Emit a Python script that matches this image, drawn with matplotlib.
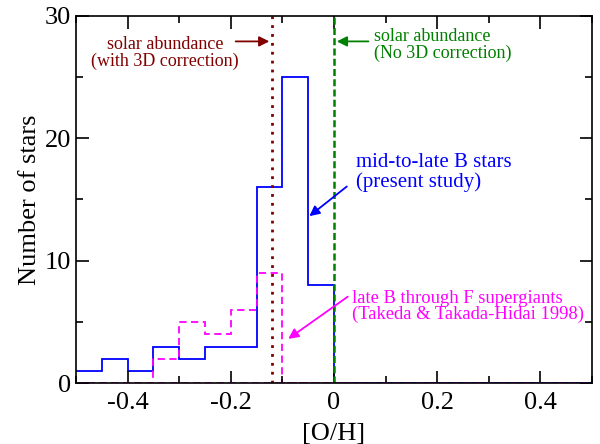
import numpy as np
import matplotlib
matplotlib.use('Agg')
import matplotlib.pyplot as plt
from matplotlib.ticker import MultipleLocator

plt.rcParams['font.family'] = ['Liberation Serif', 'DejaVu Serif']

# bin edges of [O/H], width 0.05
edges = [-0.5, -0.45, -0.4, -0.35, -0.3, -0.25, -0.2, -0.15, -0.1, -0.05, 0.0, 0.05]
# mid-to-late B stars (present study)
counts_b = [1, 2, 1, 3, 2, 3, 3, 16, 25, 8, 0]
# late B through F supergiants (Takeda & Takada-Hidai 1998)
counts_sg = [0, 0, 0, 2, 5, 4, 6, 9, 0, 0, 0]

solar_3d = -0.12
solar_no3d = 0.0

fig = plt.figure(figsize=(6, 4.44), dpi=100)
ax = fig.add_axes([0.1267, 0.1367, 0.86, 0.828])

ax.stairs(counts_b, edges, color='#0000ff', lw=1.3, baseline=None)
ax.stairs(counts_sg, edges, color='#ff00ff', lw=1.3, ls=(0, (4, 2.5)), baseline=None)
ax.plot([0.05, 0.5], [0, 0], color='#0000ff', lw=1.3)
ax.plot([-0.5, 0.5], [0, 0], color='#ff00ff', lw=1.3, ls=(0, (4, 2.5)))

ax.axvline(solar_3d, color='#800000', lw=2, ls=(0, (1, 2.2)))
ax.axvline(solar_no3d, color='#008000', lw=1.8, ls=(0, (2.8, 1.3)))

ax.set_xlim(-0.5, 0.5)
ax.set_ylim(0, 30)
ax.xaxis.set_major_locator(MultipleLocator(0.2))
ax.xaxis.set_minor_locator(MultipleLocator(0.1))
ax.yaxis.set_major_locator(MultipleLocator(10))
ax.yaxis.set_minor_locator(MultipleLocator(5))
ax.tick_params(which='both', direction='in', top=True, right=True, labelsize=19, width=1.2)
ax.tick_params(which='major', length=9)
ax.tick_params(which='minor', length=5)
ax.tick_params(axis='x', which='major', pad=6)
ax.set_xticks([-0.4, -0.2, 0, 0.2, 0.4])
ax.set_xticklabels(['-0.4', '-0.2', '0', '0.2', '0.4'])
for s in ax.spines.values():
    s.set_linewidth(1.2)

ax.set_xlabel('[O/H]', fontsize=19, labelpad=7)
ax.set_ylabel('Number of stars', fontsize=19, labelpad=3)

ax.annotate('', xy=(solar_3d, 27.9), xytext=(-0.196, 27.9),
            arrowprops=dict(arrowstyle='-|>', color='#800000', lw=1.3, mutation_scale=15))
ax.text(-0.327, 26.96, 'solar abundance\n(with 3D correction)', color='#800000',
        fontsize=13, ha='center', va='center', linespacing=1.0)

ax.annotate('', xy=(solar_no3d, 27.9), xytext=(0.072, 27.9),
            arrowprops=dict(arrowstyle='-|>', color='#008000', lw=1.3, mutation_scale=15))
ax.text(0.078, 27.6, 'solar abundance\n(No 3D correction)', color='#008000',
        fontsize=13, ha='left', va='center', linespacing=1.0)

ax.annotate('', xy=(-0.052, 13.5), xytext=(0.029, 16.2),
            arrowprops=dict(arrowstyle='-|>', color='#0000ff', lw=1.3, mutation_scale=15))
ax.text(0.043, 17.2, 'mid-to-late B stars\n(present study)', color='#0000ff',
        fontsize=15, ha='left', va='center', linespacing=1.0)

ax.annotate('', xy=(-0.093, 3.5), xytext=(0.031, 7.2),
            arrowprops=dict(arrowstyle='-|>', color='#ff00ff', lw=1.3, mutation_scale=15))
ax.text(0.035, 6.27, 'late B through F supergiants\n(Takeda & Takada-Hidai 1998)', color='#ff00ff',
        fontsize=13.4, ha='left', va='center', linespacing=0.9)

fig.savefig('out.png', dpi=100)
